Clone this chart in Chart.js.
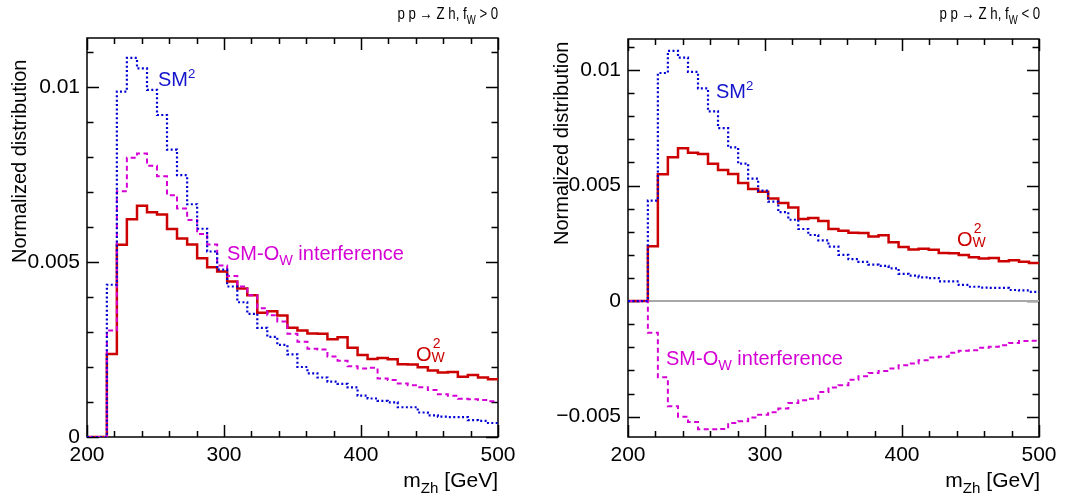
<!DOCTYPE html>
<html>
<head>
<meta charset="utf-8">
<script src="https://cdn.jsdelivr.net/npm/chart.js@4"></script>
<style>
    body { margin: 0; background: #fff; width: 1074px; height: 501px; position: relative; overflow: hidden;
           font-family: "Liberation Sans", Arial, sans-serif; color: #000; }
    .khung { position: absolute; top: 0; width: 537px; height: 501px; }
    .nhan { position: absolute; white-space: nowrap; line-height: 1; font-size: 20px; }
    .ha { font-size: 72%; position: relative; top: 0.38em; }
    .len { font-size: 66%; position: relative; top: -0.62em; }
    .kep { display: inline-block; position: relative; width: 0.75em; height: 1em; }
    .kep .tren { position: absolute; left: 0.08em; top: -0.39em; font-size: 70%; }
    .kep .duoi { position: absolute; left: 0; top: 0.66em; font-size: 70%; }
    .xoay { transform-origin: 0 0; transform: rotate(-90deg); }
    .tieuDe { font-size: 17px; transform-origin: 100% 50%; transform: scaleX(0.78); }
    .xanh { color: #1414cc; }
    .tim { color: #d400d4; }
    .do { color: #cc0000; }
</style>
</head>
<body>
<div class="khung" style="left:0"><canvas id="bieuDoTrai" width="537" height="501"></canvas></div>
<div class="khung" style="left:537px"><canvas id="bieuDoPhai" width="537" height="501"></canvas></div>

<!-- chữ của khung trái -->
<div class="nhan tieuDe" style="right:576px; top:5px">p p &rarr; Z h, f<span class="ha">W</span> &gt; 0</div>
<div class="nhan xoay" style="left:9px; top:263px">Normalized distribution</div>
<div class="nhan" style="right:576px; top:469px; font-size:21px">m<span class="ha">Zh</span> [GeV]</div>
<div class="nhan xanh" style="left:158px; top:69px">SM<span class="len">2</span></div>
<div class="nhan tim" style="left:227px; top:243px">SM-O<span class="ha">W</span> interference</div>
<div class="nhan do" style="left:416px; top:341px">O<span class="kep"><span class="tren">2</span><span class="duoi">W</span></span></div>

<!-- chữ của khung phải -->
<div class="nhan tieuDe" style="right:34px; top:5px">p p &rarr; Z h, f<span class="ha">W</span> &lt; 0</div>
<div class="nhan xoay" style="left:551px; top:245px">Normalized distribution</div>
<div class="nhan" style="right:34px; top:469px; font-size:21px">m<span class="ha">Zh</span> [GeV]</div>
<div class="nhan xanh" style="left:716px; top:81px">SM<span class="len">2</span></div>
<div class="nhan tim" style="left:666px; top:348px">SM-O<span class="ha">W</span> interference</div>
<div class="nhan do" style="left:957px; top:226px">O<span class="kep"><span class="tren">2</span><span class="duoi">W</span></span></div>

<script>
// cạnh trái của các bin (GeV), bin cuối kết thúc ở 500
const canhBin = [214.5, 221.8, 229.1, 236.5, 243.8, 251.1, 258.4, 265.7, 273.1, 280.4,
    287.7, 295.0, 302.3, 309.7, 317.0, 324.3, 331.6, 338.9, 346.3, 353.6,
    360.9, 368.2, 375.5, 382.9, 390.2, 397.5, 404.8, 412.1, 419.5, 426.8,
    434.1, 441.4, 448.8, 456.1, 463.4, 470.7, 478.0, 485.4, 492.7];

// SM^2 (giống nhau ở hai khung)
const xanhSM2 = [0.00435, 0.00987, 0.01083, 0.01053, 0.00992, 0.0092, 0.00821, 0.00748, 0.00665, 0.00595,
    0.0053, 0.00478, 0.0043, 0.00385, 0.00352, 0.00312, 0.00286, 0.00263, 0.00236, 0.002,
    0.00182, 0.0017, 0.00158, 0.00152, 0.00142, 0.00118, 0.0011, 0.00103, 0.00099, 0.00085,
    0.00085, 0.0007, 0.00062, 0.00058, 0.00057, 0.00057, 0.00048, 0.00046, 0.0004];

// O_W^2
const doOW2 = [0.00237, 0.00549, 0.00622, 0.00661, 0.00642, 0.00636, 0.00594, 0.00567, 0.0055, 0.00511,
    0.00485, 0.00473, 0.00444, 0.00424, 0.00405, 0.00355, 0.00359, 0.00347, 0.00312, 0.00304,
    0.00296, 0.00295, 0.00279, 0.00285, 0.00255, 0.00234, 0.00223, 0.00226, 0.00222, 0.00208,
    0.00207, 0.00199, 0.0019, 0.00184, 0.00186, 0.00172, 0.00177, 0.0017, 0.00165];

// giao thoa SM-O_W, f_W > 0
const timGiaoThoaDuong = [0.00304, 0.00702, 0.00798, 0.0081, 0.00775, 0.00745, 0.00691, 0.00653, 0.0062, 0.0058,
    0.0055, 0.0049, 0.0046, 0.0043, 0.00405, 0.00368, 0.00348, 0.0033, 0.00295, 0.00272,
    0.00252, 0.0025, 0.0023, 0.00218, 0.00202, 0.00196, 0.00198, 0.00167, 0.00163, 0.00153,
    0.00148, 0.00142, 0.00134, 0.00122, 0.00118, 0.00109, 0.00108, 0.00106, 0.00102];

// giao thoa SM-O_W, f_W < 0
const timGiaoThoaAm = [-0.00137, -0.0033, -0.00455, -0.005, -0.00523, -0.00555, -0.00555, -0.00553, -0.00527, -0.0052,
    -0.00504, -0.00492, -0.00481, -0.00465, -0.00441, -0.00429, -0.00422, -0.00393, -0.00374, -0.00364,
    -0.0034, -0.00325, -0.00311, -0.00302, -0.00292, -0.00278, -0.0027, -0.00256, -0.00244, -0.00241,
    -0.00224, -0.00215, -0.00213, -0.00202, -0.00198, -0.00191, -0.00181, -0.00173, -0.00172];

// nhãn trục
const nhanTrucX = [200, 300, 400, 500];
const nhanTrucYTrai = [0, 0.005, 0.01];
const nhanTrucYPhai = [-0.005, 0, 0.005, 0.01];

const MAU_XANH = "#0000d4";
const MAU_TIM = "#d400d4";
const MAU_DO = "#cc0000";
const FONT_TRUC = { family: "'Liberation Sans', Arial, sans-serif", size: 21 };

// biến mảng giá trị thành các điểm bậc thang
function taoDiem(giaTri) {
    let diem = [{ x: 200, y: 0 }];
    giaTri.forEach((v, i) => diem.push({ x: canhBin[i], y: v }));
    diem.push({ x: 500, y: giaTri[giaTri.length - 1] });
    return diem;
}

function dongHistogram(giaTri, mau, doDay, netDut) {
    return {
        data: taoDiem(giaTri),
        borderColor: mau,
        borderWidth: doDay,
        borderDash: netDut,
        stepped: true,
        pointRadius: 0,
        fill: false,
    };
}

// vẽ khung và vạch chia hướng vào trong như ROOT
const khungVaVach = {
    id: "khungVaVach",
    beforeDatasetsDraw(chart) {
        const { ctx, chartArea: a, scales } = chart;
        const x = scales.x, y = scales.y;
        ctx.save();
        ctx.strokeStyle = "#000";
        ctx.lineWidth = 1.5;
        ctx.strokeRect(a.left, a.top, a.right - a.left, a.bottom - a.top);
        ctx.beginPath();
        for (let v = 200; v <= 500; v += 20) {
            const px = Math.round(x.getPixelForValue(v)) + 0.5;
            const dai = v % 100 === 0 ? 12 : 6;
            ctx.moveTo(px, a.bottom); ctx.lineTo(px, a.bottom - dai);
            ctx.moveTo(px, a.top); ctx.lineTo(px, a.top + dai);
        }
        for (let i = -10; i <= 12; i++) {
            const v = i / 1000;
            if (v < y.min || v > y.max) continue;
            const py = Math.round(y.getPixelForValue(v)) + 0.5;
            const dai = i % 5 === 0 ? 12 : 6.5;
            ctx.moveTo(a.left, py); ctx.lineTo(a.left + dai, py);
            ctx.moveTo(a.right, py); ctx.lineTo(a.right - dai, py);
        }
        ctx.stroke();
        ctx.restore();
    },
};

function veBieuDo(idCanvas, datasets, yMin, yMax, nhanY, rongTrucY, padPhai, padTren) {
    new Chart(document.getElementById(idCanvas), {
        type: "line",
        data: { datasets: datasets },
        options: {
            responsive: false,
            animation: false,
            devicePixelRatio: 1,
            layout: { padding: { top: padTren, right: padPhai, left: 0, bottom: 0 } },
            plugins: { legend: { display: false }, tooltip: { enabled: false } },
            scales: {
                x: {
                    type: "linear",
                    min: 200,
                    max: 500,
                    afterBuildTicks: (s) => { s.ticks = nhanTrucX.map((v) => ({ value: v })); },
                    afterFit: (s) => { s.height = 64; },
                    grid: { display: false, drawTicks: false },
                    border: { display: false },
                    ticks: { font: FONT_TRUC, color: "#000", padding: 6, maxRotation: 0, autoSkip: false },
                },
                y: {
                    type: "linear",
                    min: yMin,
                    max: yMax,
                    afterBuildTicks: (s) => { s.ticks = nhanY.map((v) => ({ value: v })); },
                    afterFit: (s) => { s.width = rongTrucY; },
                    grid: { display: false, drawTicks: false },
                    border: { display: false },
                    ticks: {
                        font: FONT_TRUC,
                        color: "#000",
                        padding: 7,
                        autoSkip: false,
                        callback: (v) => (v === 0 ? "0" : (v < 0 ? "\u2212" : "") + Math.abs(v)),
                    },
                },
            },
        },
        plugins: [khungVaVach],
    });
}

document.addEventListener("DOMContentLoaded", function () {
    veBieuDo("bieuDoTrai", [
        dongHistogram(xanhSM2, MAU_XANH, 2.2, [2, 2.4]),
        dongHistogram(timGiaoThoaDuong, MAU_TIM, 2, [5, 3.5]),
        dongHistogram(doOW2, MAU_DO, 2.5, []),
    ], 0, 0.0114, nhanTrucYTrai, 87, 39, 38);

    veBieuDo("bieuDoPhai", [
        dongHistogram(xanhSM2, MAU_XANH, 2.2, [2, 2.4]),
        dongHistogram(timGiaoThoaAm, MAU_TIM, 2, [5, 3.5]),
        dongHistogram(doOW2, MAU_DO, 2.5, []),
        { data: [{ x: 200, y: 0 }, { x: 500, y: 0 }], borderColor: "#a8a8a8", borderWidth: 2, pointRadius: 0 },
    ], -0.00588, 0.01134, nhanTrucYPhai, 91, 35, 39);
});
</script>
</body>
</html>
